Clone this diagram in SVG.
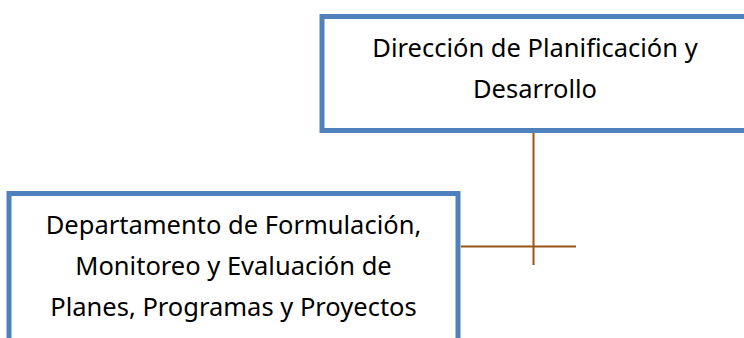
<svg xmlns="http://www.w3.org/2000/svg" width="744" height="338" viewBox="0 0 744 338">
<style>
.box{fill:#ffffff;stroke:#4f81bd;stroke-width:5}
.lbl{font-family:"Noto Sans","Liberation Sans",sans-serif;font-size:25.5px;fill:#000000;text-anchor:middle}
.con{stroke:#9a5414;stroke-width:2;fill:none}
</style>
<rect width="744" height="338" fill="#ffffff"/>
<g id="connectors">
<line class="con" x1="533.5" y1="131" x2="533.5" y2="265"/>
<line class="con" x1="461" y1="246.5" x2="576" y2="246.5"/>
</g>
<g id="node-direccion">
<rect class="box" x="322" y="16.5" width="430" height="114"/>
<text class="lbl" x="535" y="57">Dirección de Planificación y</text>
<text class="lbl" x="535" y="98">Desarrollo</text>
</g>
<g id="node-departamento">
<rect class="box" x="9" y="193.5" width="449" height="160"/>
<text class="lbl" x="233.5" y="234">Departamento de Formulación,</text>
<text class="lbl" x="233.5" y="275">Monitoreo y Evaluación de</text>
<text class="lbl" x="233.5" y="316">Planes, Programas y Proyectos</text>
</g>
</svg>
